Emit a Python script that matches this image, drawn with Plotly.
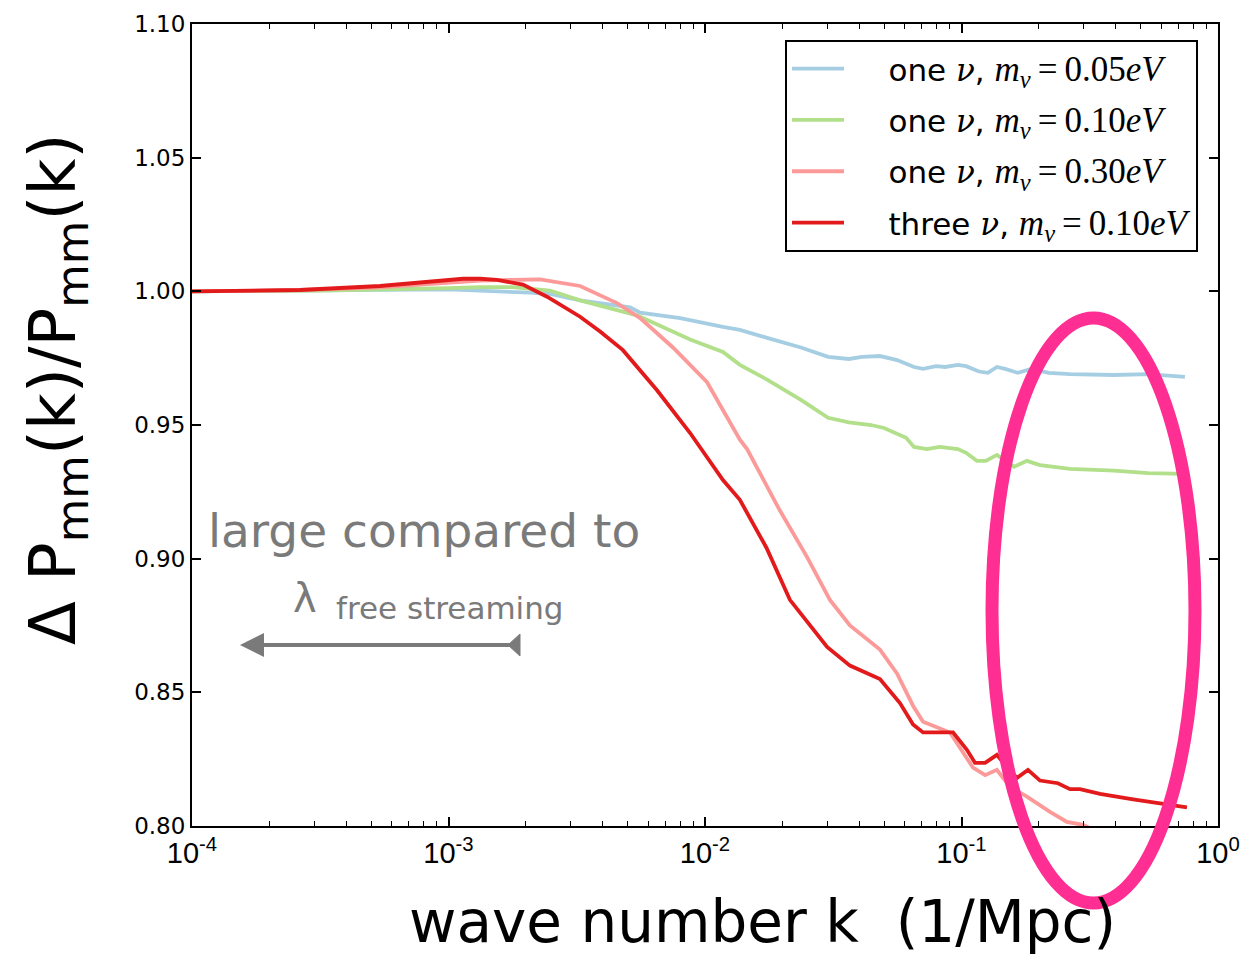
import plotly.graph_objects as go

# ---------------- data (log10 k, ratio) ----------------
blue_logk = [-4.0, -3.5, -3.0, -2.682, -2.604, -2.487, -2.292, -2.253, -2.097, -1.930, -1.864,
             -1.758, -1.626, -1.520, -1.439, -1.388, -1.318, -1.251, -1.185, -1.150, -1.099,
             -1.064, -1.014, -0.982, -0.932, -0.897, -0.862, -0.830, -0.780, -0.729, -0.659,
             -0.577, -0.405, -0.273, -0.129]
blue_val = [1.000, 1.0003, 1.0007, 0.9995, 0.999, 0.9966, 0.994, 0.992, 0.990, 0.9867, 0.9856,
            0.9826, 0.979, 0.9755, 0.9747, 0.9755, 0.9758, 0.9743, 0.9717, 0.971, 0.972,
            0.9717, 0.9725, 0.972, 0.970, 0.9695, 0.9717, 0.971, 0.9695, 0.971, 0.9695,
            0.969, 0.9687, 0.969, 0.968]

green_logk = [-4.0, -3.5, -3.0, -2.877, -2.749, -2.604, -2.487, -2.382, -2.292, -2.265, -2.058,
              -1.930, -1.864, -1.758, -1.626, -1.520, -1.439, -1.353, -1.302, -1.216, -1.185,
              -1.135, -1.084, -1.014, -0.982, -0.940, -0.905, -0.862, -0.795, -0.745, -0.694,
              -0.643, -0.577, -0.405, -0.273, -0.129]
green_val = [1.000, 1.0003, 1.0012, 1.0016, 1.0016, 1.0003, 0.9966, 0.994, 0.9919, 0.991, 0.982,
             0.9773, 0.9725, 0.967, 0.9594, 0.9527, 0.951, 0.950, 0.9489, 0.9452, 0.9418,
             0.941, 0.9418, 0.941, 0.9396, 0.9366, 0.9366, 0.9388, 0.9344, 0.9366, 0.935,
             0.9344, 0.9336, 0.9329, 0.932, 0.9317]

pink_logk = [-4.0, -3.579, -3.267, -3.033, -2.877, -2.643, -2.487, -2.343, -2.253, -2.125, -1.992,
             -1.864, -1.836, -1.708, -1.602, -1.513, -1.435, -1.318, -1.251, -1.189, -1.150,
             -1.045, -0.955, -0.908, -0.862, -0.811, -0.745, -0.655, -0.589, -0.526, -0.45]
pink_val = [1.000, 1.0005, 1.0015, 1.003, 1.004, 1.0045, 1.002, 0.9956, 0.990, 0.979, 0.966,
            0.9445, 0.941, 0.918, 0.9006, 0.8846, 0.875, 0.866, 0.857, 0.845, 0.839,
            0.835, 0.8218, 0.819, 0.821, 0.8146, 0.811, 0.8053, 0.8015, 0.8004, 0.797]

red_logk = [-4.0, -3.579, -3.267, -3.072, -2.943, -2.877, -2.811, -2.710, -2.616, -2.487, -2.409,
            -2.320, -2.187, -2.058, -1.930, -1.864, -1.760, -1.669, -1.524, -1.435, -1.318,
            -1.240, -1.189, -1.150, -1.033, -0.979, -0.947, -0.908, -0.862, -0.823, -0.784,
            -0.741, -0.694, -0.624, -0.577, -0.538, -0.460, -0.331, -0.121]
red_val = [1.000, 1.0005, 1.002, 1.0035, 1.0047, 1.0047, 1.0043, 1.0025, 0.998, 0.9905, 0.985,
           0.978, 0.963, 0.947, 0.9294, 0.922, 0.904, 0.8846, 0.867, 0.860, 0.855,
           0.846, 0.838, 0.835, 0.835, 0.8285, 0.8236, 0.8236, 0.8266, 0.822, 0.818,
           0.821, 0.817, 0.816, 0.8138, 0.8138, 0.812, 0.810, 0.807]

series_words = ["one", "one", "one", "three"]
series_masses = ["0.05", "0.10", "0.30", "0.10"]
series_colors = ["#a6cee3", "#b2df8a", "#fb9a99", "#e31a1c"]

x_tick_vals = [1e-4, 1e-3, 1e-2, 1e-1, 1.0]
x_tick_text = ["10<sup>-4</sup>", "10<sup>-3</sup>", "10<sup>-2</sup>", "10<sup>-1</sup>", "10<sup>0</sup>"]
y_tick_vals = [0.80, 0.85, 0.90, 0.95, 1.00, 1.05, 1.10]
y_tick_text = ["0.80", "0.85", "0.90", "0.95", "1.00", "1.05", "1.10"]
minor_vals = [m * 10.0 ** e for e in (-4, -3, -2, -1) for m in range(2, 10)]


def legend_name(word, mass):
    nb = "\u00a0"
    return (nb * 4 + word + " <span style='font-family:DejaVu Serif'><i>ν</i></span>, "
            "<span style='font-family:Liberation Serif;font-size:35px'><i>m<sub>ν</sub></i>"
            "\u2009=\u2009" + mass + "<i>eV</i></span>")


fig = go.Figure()
for i, (lk, vals, word, mass, col) in enumerate(zip(
        [blue_logk, green_logk, pink_logk, red_logk],
        [blue_val, green_val, pink_val, red_val],
        series_words, series_masses, series_colors)):
    fig.add_trace(go.Scatter(x=[10 ** v for v in lk], y=vals, mode="lines",
                             name=legend_name(word, mass), legendgroup=f"g{i}",
                             line=dict(color=col, width=3.8)))

grey = "#7a7a7a"
W, H = 1244, 952           # page has an 8px body margin
L, R, T, B = 184, 34, 16, 134
pw, ph = W - L - R, H - T - B
OFF = 8


def px(xp):                # page pixel -> paper x
    return (xp - OFF - L) / pw


def py(yp):                # page pixel -> paper y
    return (H - B - (yp - OFF)) / ph


fig.update_layout(
    width=W, height=H,
    margin=dict(l=L, r=R, t=T, b=B, autoexpand=False),
    paper_bgcolor="white", plot_bgcolor="white",
    showlegend=True,
    legend=dict(x=px(785), y=py(40), xanchor="left", yanchor="top",
                bordercolor="black", borderwidth=2, bgcolor="white",
                font=dict(family="DejaVu Sans", size=31, color="black"),
                traceorder="grouped", tracegroupgap=8, itemwidth=52),
    xaxis=dict(type="log", range=[-4, 0], tickvals=x_tick_vals, ticktext=x_tick_text,
               ticks="inside", ticklen=9, tickwidth=1.5, tickcolor="black",
               showline=True, linecolor="black", linewidth=2, mirror="allticks",
               showgrid=False, zeroline=False, automargin=False,
               tickfont=dict(family="Liberation Sans Narrow, Liberation Sans", size=29, color="black"),
               minor=dict(tickvals=minor_vals, ticks="inside", ticklen=5, tickwidth=1,
                          tickcolor="black", showgrid=False)),
    yaxis=dict(range=[0.80, 1.10], tickvals=y_tick_vals, ticktext=y_tick_text,
               ticks="inside", ticklen=9, tickwidth=1.5, tickcolor="black",
               showline=True, linecolor="black", linewidth=2, mirror="allticks",
               showgrid=False, zeroline=False, automargin=False,
               tickfont=dict(family="DejaVu Sans", size=23, color="black")),
)

# y-axis title
fig.add_annotation(xref="paper", yref="paper", x=px(57), y=py(390), showarrow=False,
                   textangle=-90, xanchor="center", yanchor="middle",
                   text="Δ P<sub>mm</sub>(k)/P<sub>mm</sub>(k)",
                   font=dict(family="DejaVu Sans", size=64, color="black"))
# x-axis title
fig.add_annotation(xref="paper", yref="paper", x=px(762), y=py(922), showarrow=False,
                   xanchor="center", yanchor="middle",
                   text="wave number k  (1/Mpc)",
                   font=dict(family="DejaVu Sans", size=58, color="black"))

# grey annotations
fig.add_annotation(xref="paper", yref="paper", x=px(424), y=py(530), showarrow=False,
                   xanchor="center", yanchor="middle", text="large compared to",
                   font=dict(family="DejaVu Sans", size=47, color=grey))
fig.add_annotation(xref="paper", yref="paper", x=px(305), y=py(598), showarrow=False,
                   xanchor="center", yanchor="middle", text="λ",
                   font=dict(family="DejaVu Sans", size=40, color=grey))
fig.add_annotation(xref="paper", yref="paper", x=px(450), y=py(608), showarrow=False,
                   xanchor="center", yanchor="middle", text="free streaming",
                   font=dict(family="DejaVu Sans", size=31, color=grey))
fig.add_annotation(xref="paper", yref="paper", x=px(240), y=py(645),
                   axref="pixel", ayref="pixel", ax=278, ay=0,
                   showarrow=True, arrowhead=2, arrowsize=1.2, arrowwidth=4,
                   arrowcolor=grey, text="")
# arrow tail mark
fig.add_shape(type="path", xref="paper", yref="paper",
              path=f"M {px(520)} {py(634)} L {px(520)} {py(656)} L {px(508)} {py(645)} Z",
              fillcolor=grey, line=dict(color=grey, width=1))

# pink hand-drawn ellipse
fig.add_shape(type="circle", xref="paper", yref="paper",
              x0=px(992), x1=px(1195), y0=py(903), y1=py(318),
              line=dict(color="#ff2e93", width=13), layer="above")

fig.write_html("out.html")
